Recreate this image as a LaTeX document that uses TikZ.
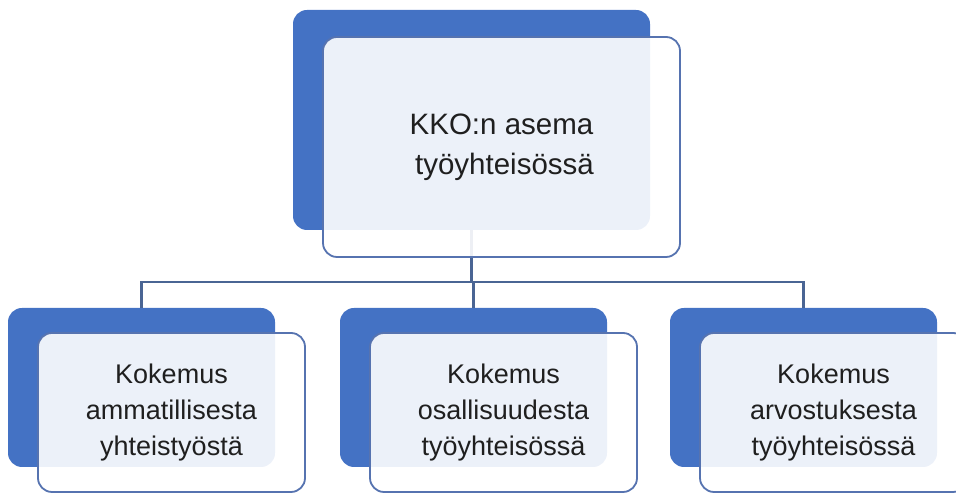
\documentclass[tikz,border=0pt]{standalone}
\usepackage{fontspec}
\setmainfont{Liberation Sans}
\definecolor{kkoblue}{HTML}{4472C4}
\definecolor{kkoline}{HTML}{4A6594}
\definecolor{kkoedge}{HTML}{5673B0}

\begin{document}
\begin{tikzpicture}[x=1pt, y=1pt,
  backbox/.style={fill=kkoblue, rounded corners=14pt, inner sep=0pt},
  frontbox/.style={draw=kkoedge, line width=1.8pt, fill=white, fill opacity=0.9,
    text opacity=1, text=black!88, rounded corners=14pt, align=center, inner sep=0pt},
  topsize/.style={minimum width=357pt, minimum height=220pt},
  subsize/.style={minimum width=267pt, minimum height=159pt},
  link/.style={draw=kkoline, line width=2.6pt}]
  \useasboundingbox (0,0) rectangle (956,494);
  % --- takalaatikot ---
  \node[backbox, topsize] (b0) at (471.5,374) {};
  \node[backbox, subsize] (b1) at (141.5,106.5) {};
  \node[backbox, subsize] (b2) at (473.5,106.5) {};
  \node[backbox, subsize] (b3) at (803.5,106.5) {};
  % --- yhdysviivat ---
  \draw[link] (b0.south) -- ++(0,-52) -| (b1.north);
  \draw[link] (b0.south) -- ++(0,-52) -| (b2.north);
  \draw[link] (b0.south) -- ++(0,-52) -| (b3.north);
  % --- etulaatikot ---
  \node[frontbox, topsize, font=\fontsize{29.5}{40}\selectfont] (f0)
    at ([shift={(30,-27)}]b0.center) {KKO:n asema\\\hspace{6pt}työyhteisössä};
  \node[frontbox, subsize, font=\fontsize{27}{36}\selectfont] (f1)
    at ([shift={(30,-25)}]b1.center) {Kokemus\\ammatillisesta\\yhteistyöstä};
  \node[frontbox, subsize, font=\fontsize{27}{36}\selectfont] (f2)
    at ([shift={(30,-25)}]b2.center) {Kokemus\\osallisuudesta\\työyhteisössä};
  \node[frontbox, subsize, font=\fontsize{27}{36}\selectfont] (f3)
    at ([shift={(30,-25)}]b3.center) {Kokemus\\arvostuksesta\\työyhteisössä};
\end{tikzpicture}
\end{document}
